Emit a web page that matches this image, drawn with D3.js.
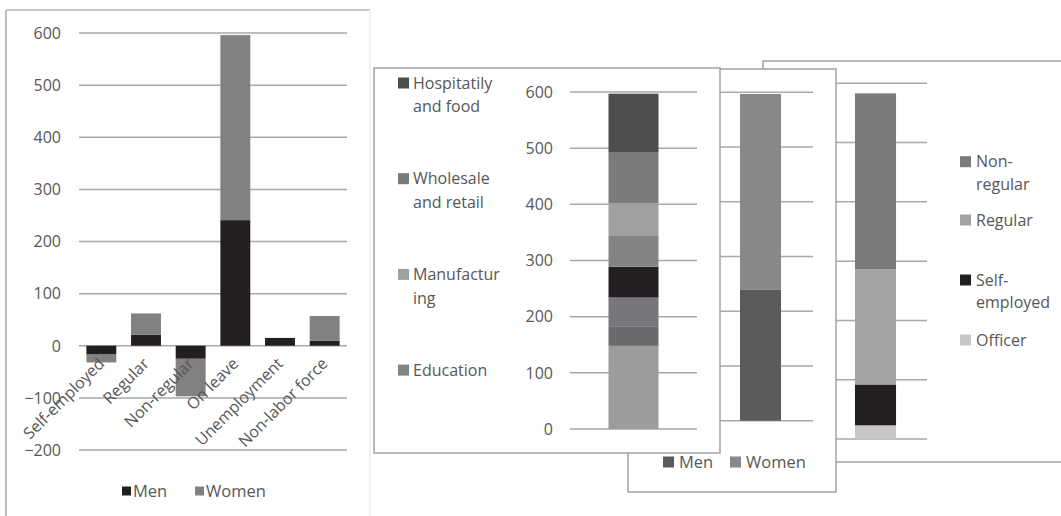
<!DOCTYPE html>
<html>
<head>
<meta charset="utf-8">
<script src="https://cdn.jsdelivr.net/npm/d3@7/dist/d3.min.js"></script>
<style>
  html, body { margin: 0; padding: 0; background: #ffffff; }
  svg { display: block; }
  text { font-family: "Open Sans", Lato, sans-serif; fill: #575757; }
</style>
</head>
<body>
<svg id="chart" width="1061" height="516"></svg>
<script>
// Change by employment status (left chart)
const statusCategories = ["Self-employed", "Regular", "Non-regular", "On leave", "Unemployment", "Non-labor force"];
const menChange = [-17, 21, -25, 241, 15, 10];
const womenChange = [-15, 41, -72, 355, 0, 47];
const changeTicks = [-200, -100, 0, 100, 200, 300, 400, 500, 600];

// Breakdown of those on leave by industry (stack order, bottom to top)
const industryNames = ["Other 1", "Other 2", "Other 3", "Other 4", "Education", "Manufacturing", "Wholesale and retail", "Hospitatily and food"];
const industryValues = [148, 35, 51, 55, 56, 57, 90, 105];
const industryLegendShown = 4;

// Breakdown of those on leave by sex
const sexNames = ["Men", "Women"];
const sexValues = [239, 358];

// Breakdown of those on leave by job type (stack order, bottom to top)
const jobTypeNames = ["Officer", "Self-employed", "Regular", "Non-regular"];
const jobTypeValues = [23, 69, 194, 297];

const stackTicks = [0, 100, 200, 300, 400, 500, 600];

const svg = d3.select("#chart");
const gridColor = "#a9a9a9";
const frameColor = "#a3a3a3";

function gridlines(g, y, ticks, x0, x1) {
  g.selectAll("line.grid").data(ticks).join("line")
    .attr("class", "grid")
    .attr("x1", x0).attr("x2", x1)
    .attr("y1", d => y(d)).attr("y2", d => y(d))
    .attr("stroke", gridColor).attr("stroke-width", 1.5);
}

function tickLabels(g, y, ticks, xr) {
  g.selectAll("text.tick").data(ticks).join("text")
    .attr("class", "tick")
    .attr("x", xr).attr("y", d => y(d)).attr("dy", "0.36em")
    .attr("text-anchor", "end")
    .style("font-size", "16px")
    .text(d => d3.format("d")(d));
}

function panel(g, x0, y0, x1, y1) {
  g.append("rect")
    .attr("x", x0).attr("y", y0).attr("width", x1 - x0).attr("height", y1 - y0)
    .attr("fill", "#ffffff").attr("stroke", frameColor).attr("stroke-width", 1.5);
}

// ---------- Left chart: diverging stacked columns ----------
{
  const g = svg.append("g");
  // frame
  g.append("line").attr("x1", 6).attr("x2", 370).attr("y1", 10).attr("y2", 10).attr("stroke", "#b4b4b4").attr("stroke-width", 1.5);
  g.append("line").attr("x1", 6).attr("x2", 6).attr("y1", 10).attr("y2", 516).attr("stroke", "#a8a8a8").attr("stroke-width", 1.5);
  g.append("line").attr("x1", 370).attr("x2", 370).attr("y1", 10).attr("y2", 516).attr("stroke", "#ececec").attr("stroke-width", 1.5);

  const y = d3.scaleLinear().domain([-200, 600]).range([450, 33]);
  const x = d3.scaleBand().domain(statusCategories).range([79, 347]).paddingInner(0.33).paddingOuter(0.165);

  gridlines(g, y, changeTicks, 79, 347);
  tickLabels(g, y, changeTicks, 61);

  const rows = statusCategories.map((c, i) => ({ category: c, Men: menChange[i], Women: womenChange[i] }));
  const series = d3.stack().keys(["Men", "Women"]).offset(d3.stackOffsetDiverging)(rows);
  const color = d3.scaleOrdinal().domain(["Men", "Women"]).range(["#231f20", "#818181"]);

  g.selectAll("g.series").data(series).join("g")
    .attr("fill", d => color(d.key))
    .selectAll("rect").data(d => d).join("rect")
    .attr("x", d => x(d.data.category))
    .attr("width", x.bandwidth())
    .attr("y", d => y(Math.max(d[0], d[1])))
    .attr("height", d => Math.abs(y(d[0]) - y(d[1])));

  // category labels, rotated
  g.selectAll("text.cat").data(statusCategories).join("text")
    .attr("class", "cat")
    .attr("text-anchor", "end")
    .style("font-size", "16px")
    .attr("transform", d => `translate(${x(d) + x.bandwidth() / 2 + 4},${y(0) + 19}) rotate(-45)`)
    .text(d => d);

  // legend
  const lg = g.append("g");
  const legendX = [122, 195];
  ["Men", "Women"].forEach((k, i) => {
    lg.append("rect").attr("x", legendX[i]).attr("y", 486.5).attr("width", 9).attr("height", 9).attr("fill", color(k));
    lg.append("text").attr("x", legendX[i] + 11).attr("y", 491).attr("dy", "0.36em").style("font-size", "16.5px").text(k);
  });
}

// ---------- Stacked single-column panel ----------
function stackedPanel(opts) {
  const g = svg.append("g");
  panel(g, opts.frame[0], opts.frame[1], opts.frame[2], opts.frame[3]);
  const y = d3.scaleLinear().domain([0, 600]).range(opts.yRange);
  const x = d3.scaleBand().domain(["total"]).range(opts.xRange).padding(opts.pad);
  gridlines(g, y, stackTicks, opts.gridX[0], opts.gridX[1]);
  if (opts.tickX) tickLabels(g, y, stackTicks, opts.tickX);

  const row = { category: "total" };
  opts.names.forEach((n, i) => row[n] = opts.values[i]);
  const series = d3.stack().keys(opts.names)([row]);
  const color = d3.scaleOrdinal().domain(opts.names).range(opts.colors);

  g.selectAll("rect.seg").data(series).join("rect")
    .attr("class", "seg")
    .attr("fill", d => color(d.key))
    .attr("x", x("total"))
    .attr("width", x.bandwidth())
    .attr("y", d => y(d[0][1]))
    .attr("height", d => y(d[0][0]) - y(d[0][1]));
  return { g, color };
}

// Back panel: job type
{
  const p = stackedPanel({
    frame: [763, 61, 1075, 462],
    yRange: [439, 83.3],
    xRange: [824, 927],
    pad: 0.43,
    gridX: [830, 927],
    names: jobTypeNames,
    values: jobTypeValues,
    colors: ["#c6c6c6", "#231f20", "#a4a4a4", "#7a7a7a"]
  });
  const legendNames = jobTypeNames.slice().reverse();
  const lines = { "Non-regular": ["Non-", "regular"], "Self-employed": ["Self-", "employed"] };
  const ys = [161.7, 220, 280, 340];
  legendNames.forEach((n, i) => {
    p.g.append("rect").attr("x", 960).attr("y", ys[i] - 5.5).attr("width", 11).attr("height", 11).attr("fill", p.color(n));
    const parts = lines[n] || [n];
    parts.forEach((t, j) => {
      p.g.append("text").attr("x", 976).attr("y", ys[i] + j * 22.5).attr("dy", "0.36em").style("font-size", "16px").text(t);
    });
  });
}

// Middle panel: sex
{
  const p = stackedPanel({
    frame: [628, 69, 836, 492],
    yRange: [420.7, 92.3],
    xRange: [708, 813],
    pad: 0.438,
    gridX: [708, 813],
    names: sexNames,
    values: sexValues,
    colors: ["#5a5b5d", "#87888a"]
  });
  const legendX = [663, 730];
  sexNames.forEach((n, i) => {
    p.g.append("rect").attr("x", legendX[i]).attr("y", 456.5).attr("width", 11).attr("height", 11).attr("fill", p.color(n));
    p.g.append("text").attr("x", legendX[i] + 16).attr("y", 462).attr("dy", "0.36em").style("font-size", "16.5px").text(n);
  });
}

// Front panel: industry
{
  const p = stackedPanel({
    frame: [374, 68, 720, 453],
    yRange: [429, 92],
    xRange: [570, 697],
    pad: 0.435,
    gridX: [570, 697],
    tickX: 553,
    names: industryNames,
    values: industryValues,
    colors: ["#9b9c9e", "#6a6b6d", "#76777a", "#231f20", "#838486", "#9fa0a2", "#7a7b7d", "#4d4e50"]
  });
  const legendNames = industryNames.slice().reverse().slice(0, industryLegendShown);
  const lines = {
    "Hospitatily and food": ["Hospitatily", "and food"],
    "Wholesale and retail": ["Wholesale", "and retail"],
    "Manufacturing": ["Manufactur", "ing"]
  };
  legendNames.forEach((n, i) => {
    const yy = 83 + i * 95.7;
    p.g.append("rect").attr("x", 398).attr("y", yy - 5.5).attr("width", 11).attr("height", 11).attr("fill", p.color(n));
    const parts = lines[n] || [n];
    parts.forEach((t, j) => {
      p.g.append("text").attr("x", 413).attr("y", yy + j * 23.5).attr("dy", "0.36em").style("font-size", "16px").text(t);
    });
  });
}
</script>
</body>
</html>
